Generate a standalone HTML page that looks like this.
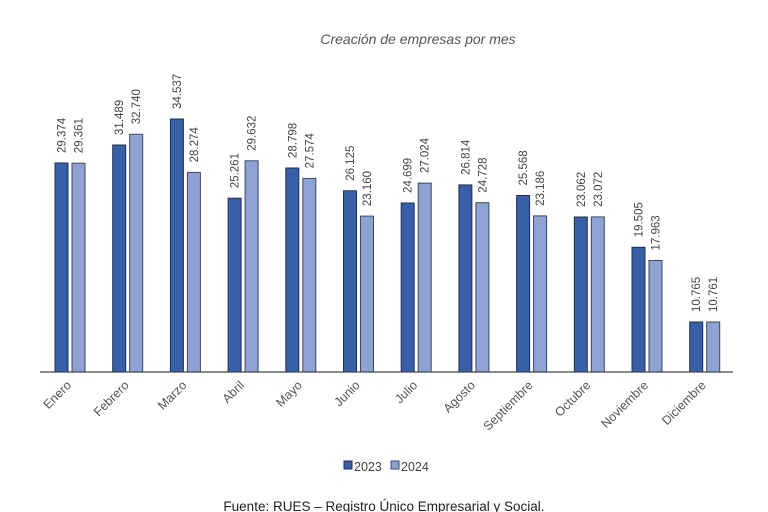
<!DOCTYPE html>
<html><head><meta charset="utf-8"><style>
html,body{margin:0;padding:0;background:#fff;}
svg{display:block;font-family:"Liberation Sans","DejaVu Sans",sans-serif;}
.a{fill:#3a5fa9;stroke:#1e2f55;stroke-width:1}
.b{fill:#8ea3d3;stroke:#3b4766;stroke-width:1}
.v{font-size:11.5px;fill:#444}
.x{font-size:12.5px;fill:#555}
</style></head><body>
<svg width="768" height="512" viewBox="0 0 768 512">
<text x="418" y="44" text-anchor="middle" font-size="14" font-style="italic" fill="#555">Creación de empresas por mes</text>
<g>
<rect class="a" x="55" y="163" width="13" height="209"/><rect class="b" x="72" y="163.2" width="13" height="208.8"/>
<rect class="a" x="112.7" y="145" width="13" height="227"/><rect class="b" x="129.7" y="134.3" width="13" height="237.7"/>
<rect class="a" x="170.4" y="119" width="13" height="253"/><rect class="b" x="187.4" y="172.4" width="13" height="199.6"/>
<rect class="a" x="228.1" y="198.2" width="13" height="173.8"/><rect class="b" x="245.1" y="160.8" width="13" height="211.2"/>
<rect class="a" x="285.8" y="168" width="13" height="204"/><rect class="b" x="302.8" y="178.4" width="13" height="193.6"/>
<rect class="a" x="343.5" y="190.8" width="13" height="181.2"/><rect class="b" x="360.5" y="216.1" width="13" height="155.9"/>
<rect class="a" x="401.2" y="203" width="13" height="169"/><rect class="b" x="418.2" y="183.1" width="13" height="188.9"/>
<rect class="a" x="458.9" y="184.9" width="13" height="187.1"/><rect class="b" x="475.9" y="202.7" width="13" height="169.3"/>
<rect class="a" x="516.6" y="195.5" width="13" height="176.5"/><rect class="b" x="533.6" y="215.9" width="13" height="156.1"/>
<rect class="a" x="574.3" y="217" width="13" height="155"/><rect class="b" x="591.3" y="216.9" width="13" height="155.1"/>
<rect class="a" x="632" y="247.3" width="13" height="124.7"/><rect class="b" x="649" y="260.5" width="13" height="111.5"/>
<rect class="a" x="689.7" y="322" width="13" height="50"/><rect class="b" x="706.7" y="322" width="13" height="50"/>
</g>
<line x1="40" y1="372" x2="733" y2="372" stroke="#444" stroke-width="1.2"/>
<g class="v">
<text transform="translate(65.5,153) rotate(-90)">29.374</text><text transform="translate(82.5,153.2) rotate(-90)">29.361</text>
<text transform="translate(123.2,135) rotate(-90)">31.489</text><text transform="translate(140.2,124.3) rotate(-90)">32.740</text>
<text transform="translate(180.9,109) rotate(-90)">34.537</text><text transform="translate(197.9,162.4) rotate(-90)">28.274</text>
<text transform="translate(238.6,188.2) rotate(-90)">25.261</text><text transform="translate(255.6,150.8) rotate(-90)">29.632</text>
<text transform="translate(296.3,158) rotate(-90)">28.798</text><text transform="translate(313.3,168.4) rotate(-90)">27.574</text>
<text transform="translate(354,180.8) rotate(-90)">26.125</text><text transform="translate(371,206.1) rotate(-90)">23.160</text>
<text transform="translate(411.7,193) rotate(-90)">24.699</text><text transform="translate(428.7,173.1) rotate(-90)">27.024</text>
<text transform="translate(469.4,174.9) rotate(-90)">26.814</text><text transform="translate(486.4,192.7) rotate(-90)">24.728</text>
<text transform="translate(527.1,185.5) rotate(-90)">25.568</text><text transform="translate(544.1,205.9) rotate(-90)">23.186</text>
<text transform="translate(584.8,207) rotate(-90)">23.062</text><text transform="translate(601.8,206.9) rotate(-90)">23.072</text>
<text transform="translate(642.5,237.3) rotate(-90)">19.505</text><text transform="translate(659.5,250.5) rotate(-90)">17.963</text>
<text transform="translate(700.2,312) rotate(-90)">10.765</text><text transform="translate(717.2,312) rotate(-90)">10.761</text>
</g>
<g class="x" text-anchor="end">
<text transform="translate(72,386) rotate(-45)">Enero</text>
<text transform="translate(129.7,386) rotate(-45)">Febrero</text>
<text transform="translate(187.4,386) rotate(-45)">Marzo</text>
<text transform="translate(245.1,386) rotate(-45)">Abril</text>
<text transform="translate(302.8,386) rotate(-45)">Mayo</text>
<text transform="translate(360.5,386) rotate(-45)">Junio</text>
<text transform="translate(418.2,386) rotate(-45)">Julio</text>
<text transform="translate(475.9,386) rotate(-45)">Agosto</text>
<text transform="translate(533.6,386) rotate(-45)">Septiembre</text>
<text transform="translate(591.3,386) rotate(-45)">Octubre</text>
<text transform="translate(649,386) rotate(-45)">Noviembre</text>
<text transform="translate(706.7,386) rotate(-45)">Diciembre</text>
</g>
<rect class="a" x="344" y="461" width="8" height="8"/>
<text x="354" y="471" font-size="12.5" fill="#444">2023</text>
<rect class="b" x="391" y="461" width="8" height="8"/>
<text x="401" y="471" font-size="12.5" fill="#444">2024</text>
<text x="384" y="511" text-anchor="middle" font-size="13.5" fill="#222">Fuente: RUES – Registro Único Empresarial y Social.</text>
</svg>
</body></html>
